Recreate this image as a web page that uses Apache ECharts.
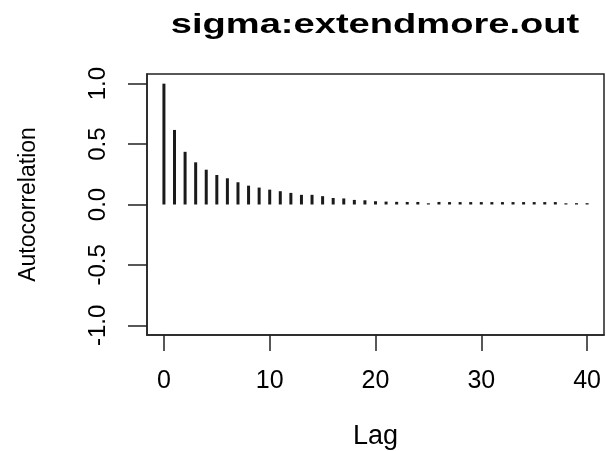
<!DOCTYPE html>
<html>
<head>
<meta charset="utf-8">
<script src="https://cdn.jsdelivr.net/npm/echarts@6/dist/echarts.min.js"></script>
<style>html,body{margin:0;padding:0;background:#fff}#c{width:606px;height:451px}</style>
</head>
<body>
<div id="c"></div>
<script>
const titleText = 'sigma:extendmore.out';
const xName = 'Lag';
const yName = 'Autocorrelation';
const lags = [0,1,2,3,4,5,6,7,8,9,10,11,12,13,14,15,16,17,18,19,20,21,22,23,24,25,26,27,28,29,30,31,32,33,34,35,36,37,38,39,40];
const acf = [1.0,0.617,0.436,0.349,0.288,0.244,0.217,0.184,0.156,0.14,0.123,0.11,0.096,0.08,0.08,0.069,0.054,0.05,0.038,0.035,0.027,0.024,0.022,0.021,0.021,0.01,0.021,0.02,0.02,0.02,0.02,0.02,0.02,0.02,0.02,0.02,0.02,0.02,0.01,0.011,0.011];
const xTicks = [0,10,20,30,40];
const yTicks = [-1.0,-0.5,0.0,0.5,1.0];

const chart = echarts.init(document.getElementById('c'), null, {renderer:'canvas'});
chart.setOption({
  animation: false,
  backgroundColor: '#fff',
  graphic: [{
    type: 'text',
    x: 375, y: 11,
    scaleX: 1.36, scaleY: 1,
    style: {
      text: titleText,
      fontFamily: 'Liberation Sans',
      fontWeight: 'bold',
      fontSize: 28,
      fill: '#000',
      align: 'center',
      verticalAlign: 'top'
    }
  }],
  grid: {
    left: 147, right: 2, top: 74, bottom: 116,
    outerBoundsMode: 'none',
    containLabel: false,
    show: true, borderColor: '#222', borderWidth: 1.5, backgroundColor: 'transparent'
  },
  xAxis: {
    type: 'value',
    min: -1.6, max: 41.6,
    name: xName,
    nameLocation: 'middle',
    nameGap: 88,
    nameTextStyle: {fontFamily: 'Liberation Sans', fontSize: 27, color: '#000'},
    axisLine: {show: true, onZero: false, lineStyle: {color: '#222', width: 1.5}},
    splitLine: {show: false},
    axisTick: {show: true, length: 16, customValues: xTicks, lineStyle: {color: '#222', width: 1.5}},
    axisLabel: {customValues: xTicks, margin: 34, fontFamily: 'Liberation Sans', fontSize: 25, color: '#000'}
  },
  yAxis: {
    type: 'value',
    min: -1.08, max: 1.08,
    name: yName,
    nameLocation: 'middle',
    nameGap: 107,
    nameRotate: 90,
    nameTextStyle: {fontFamily: 'Liberation Sans', fontSize: 23, color: '#000'},
    axisLine: {show: true, onZero: false, lineStyle: {color: '#222', width: 1.5}},
    splitLine: {show: false},
    axisTick: {show: true, length: 19, customValues: yTicks, lineStyle: {color: '#222', width: 1.5}},
    axisLabel: {customValues: yTicks, rotate: 90, margin: 37, fontFamily: 'Liberation Sans', fontSize: 24, color: '#000',
      formatter: v => Number(v).toFixed(1)}
  },
  series: [{
    type: 'bar',
    barWidth: 3,
    itemStyle: {color: '#1a1a1a'},
    data: lags.map((l, i) => [l, acf[i]])
  }]
});
</script>
</body>
</html>
